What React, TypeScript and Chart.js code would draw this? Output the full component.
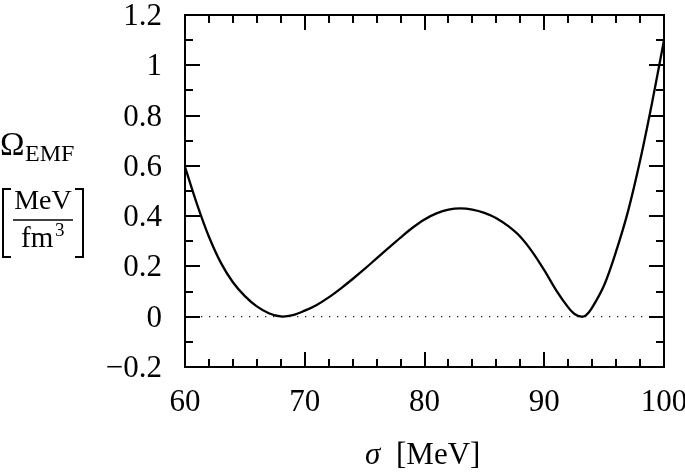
import React, { useEffect, useRef } from "react";
import { Chart, registerables } from "chart.js";

Chart.register(...registerables);

// ---- data ----
const sigma = [60, 61, 62, 63, 64, 65, 66, 67, 68, 69, 70, 71, 72, 73, 74, 75, 76, 77, 78, 79, 80, 81, 82, 83, 84, 85, 86, 87, 88, 89, 90, 91, 92, 92.5, 93.1, 93.5, 94, 95, 96, 97, 98, 99, 100];
const omega = [0.596, 0.448, 0.318, 0.214, 0.137, 0.082, 0.041, 0.014, 0.001, 0.006, 0.024, 0.047, 0.077, 0.112, 0.15, 0.19, 0.232, 0.274, 0.315, 0.354, 0.387, 0.411, 0.426, 0.431, 0.426, 0.413, 0.392, 0.36, 0.318, 0.258, 0.185, 0.105, 0.037, 0.012, 0.0, 0.006, 0.036, 0.125, 0.26, 0.42, 0.62, 0.85, 1.1];
const zeroLineX = [60, 100];
const zeroLineY = [0, 0];

const xTickLabels = ["60", "70", "80", "90", "100"];
const xTickValues = [60, 70, 80, 90, 100];
const yTickLabels = ["\u22120.2", "0", "0.2", "0.4", "0.6", "0.8", "1", "1.2"];
const yTickValues = [-0.2, 0, 0.2, 0.4, 0.6, 0.8, 1, 1.2];
const xMinorStep = 2;
const yMinorStep = 0.1;

const SERIF = "'Liberation Serif', 'DejaVu Serif', serif";

const framePlugin = {
  id: "framePlugin",
  afterDraw(chart: any) {
    const ctx = chart.ctx as CanvasRenderingContext2D;
    const { left, right, top, bottom } = chart.chartArea;
    const xs = chart.scales.x;
    const ys = chart.scales.y;
    ctx.save();
    ctx.strokeStyle = "#000";
    ctx.fillStyle = "#000";
    ctx.lineWidth = 2;
    ctx.lineCap = "butt";
    // ticks
    ctx.beginPath();
    for (let v = 60; v <= 100.001; v += xMinorStep) {
      const px = Math.round(xs.getPixelForValue(v));
      const major = Math.abs(v % 10) < 1e-6;
      const len = major ? 15 : 8;
      ctx.moveTo(px, bottom);
      ctx.lineTo(px, bottom - len);
      ctx.moveTo(px, top);
      ctx.lineTo(px, top + len);
    }
    for (let i = -2; i <= 12; i++) {
      const v = i * yMinorStep;
      const py = Math.round(ys.getPixelForValue(v));
      const major = i % 2 === 0;
      const len = major ? 15 : 8;
      ctx.moveTo(left, py);
      ctx.lineTo(left + len, py);
      ctx.moveTo(right, py);
      ctx.lineTo(right - len, py);
    }
    ctx.stroke();
    // frame
    ctx.strokeRect(left, top, right - left, bottom - top);

    // tick labels
    ctx.font = `31px ${SERIF}`;
    ctx.textAlign = "center";
    ctx.textBaseline = "alphabetic";
    xTickValues.forEach((v, i) => {
      ctx.fillText(xTickLabels[i], xs.getPixelForValue(v), 411);
    });
    ctx.textAlign = "right";
    yTickValues.forEach((v, i) => {
      ctx.fillText(yTickLabels[i], 162, ys.getPixelForValue(v) + 10);
    });

    // x title
    ctx.textAlign = "left";
    ctx.font = `italic 31px ${SERIF}`;
    ctx.fillText("\u03c3", 365, 464);
    ctx.font = `31px ${SERIF}`;
    ctx.fillText("[MeV]", 396, 464);

    // y title
    ctx.font = `33px ${SERIF}`;
    ctx.fillText("\u03a9", 0, 155);
    ctx.font = `24px ${SERIF}`;
    ctx.fillText("EMF", 25, 161);

    ctx.textAlign = "center";
    ctx.font = `28px ${SERIF}`;
    ctx.fillText("MeV", 43, 209);
    ctx.textAlign = "left";
    ctx.font = `29px ${SERIF}`;
    ctx.fillText("fm", 21, 247);
    ctx.font = `19px ${SERIF}`;
    ctx.fillText("3", 55, 236);
    ctx.lineWidth = 1.5;
    ctx.beginPath();
    ctx.moveTo(13, 220);
    ctx.lineTo(73, 220);
    ctx.stroke();
    // brackets
    ctx.lineWidth = 2;
    ctx.beginPath();
    ctx.moveTo(11, 189);
    ctx.lineTo(3, 189);
    ctx.lineTo(3, 257);
    ctx.lineTo(11, 257);
    ctx.moveTo(75, 189);
    ctx.lineTo(83, 189);
    ctx.lineTo(83, 257);
    ctx.lineTo(75, 257);
    ctx.stroke();
    ctx.restore();
  },
};

export default function App() {
  const ref = useRef<HTMLCanvasElement>(null);
  useEffect(() => {
    if (!ref.current) return;
    const chart = new Chart(ref.current, {
      type: "line",
      data: {
        datasets: [
          {
            data: sigma.map((x, i) => ({ x, y: omega[i] })),
            borderColor: "#000",
            borderWidth: 2.3,
            pointRadius: 0,
            tension: 0.35,
            fill: false,
          },
          {
            data: zeroLineX.map((x, i) => ({ x, y: zeroLineY[i] })),
            borderColor: "#222",
            borderWidth: 1.3,
            borderDash: [1.3, 6.7],
            pointRadius: 0,
            fill: false,
          },
        ],
      },
      options: {
        animation: false,
        responsive: false,
        events: [],
        layout: { padding: { left: 185, right: 21, top: 15, bottom: 106 } },
        plugins: { legend: { display: false }, tooltip: { enabled: false } },
        scales: {
          x: { type: "linear", min: 60, max: 100, display: false },
          y: { type: "linear", min: -0.2, max: 1.2, display: false },
        },
      },
      plugins: [framePlugin],
    });
    return () => chart.destroy();
  }, []);
  return (
    <div style={{ position: "absolute", left: 0, top: 0, width: 685, height: 473, background: "#fff" }}>
      <canvas ref={ref} width={685} height={473} />
    </div>
  );
}
